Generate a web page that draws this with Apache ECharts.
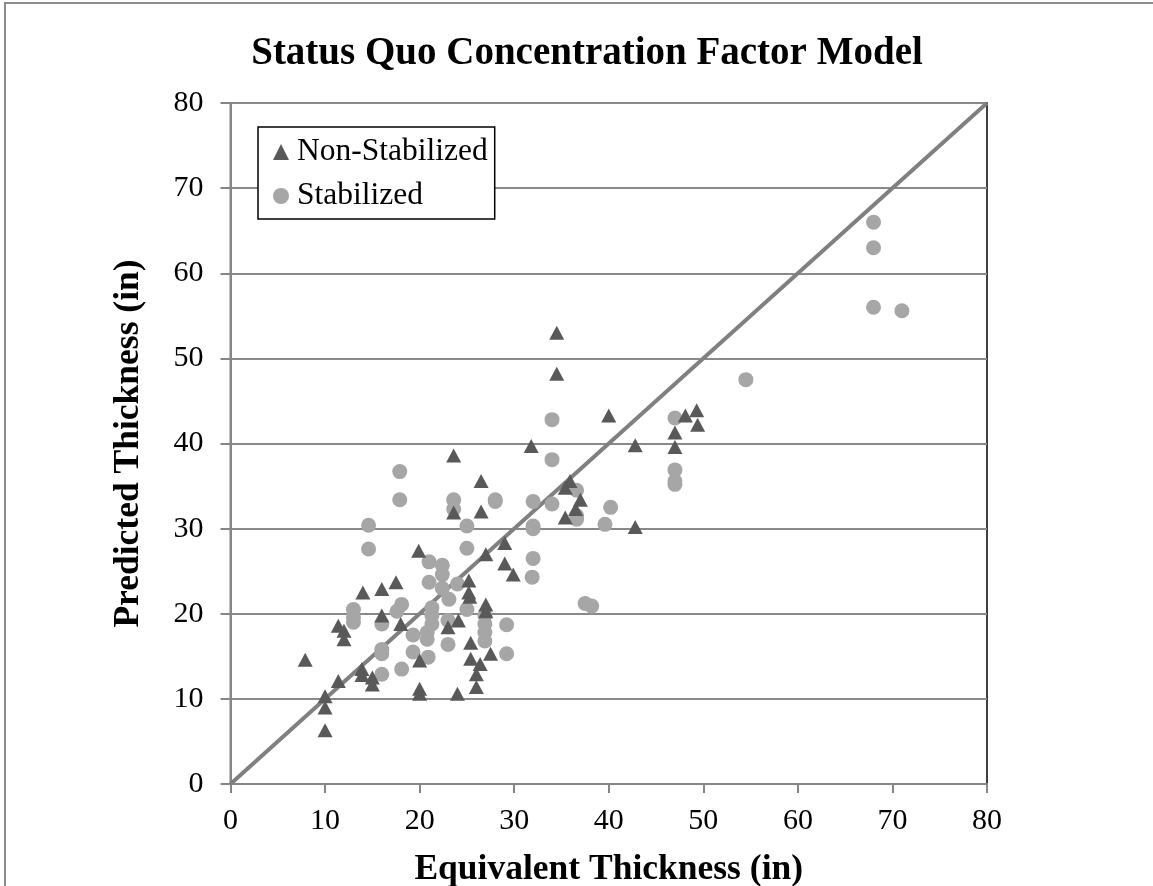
<!DOCTYPE html>
<html>
<head>
<meta charset="utf-8">
<title>Status Quo Concentration Factor Model</title>
<script src="https://cdn.jsdelivr.net/npm/echarts@6/dist/echarts.min.js"></script>
<style>
  html, body { margin: 0; padding: 0; background: #fff; }
  #frame { position: absolute; left: 4px; top: 2px; width: 1160px; height: 900px;
           border-left: 2px solid #8c8c8c; border-top: 2px solid #8c8c8c; }
  #chart { position: absolute; left: 0; top: 0; width: 1153px; height: 886px; }
</style>
</head>
<body>
<div id="frame"></div>
<div id="chart"></div>
<script>
// equivalent thickness (in), predicted thickness (in)
var nonStabilized = [
  [7.9, 14.6], [10, 10.3], [10, 9.0], [10, 6.3], [11.4, 12.1], [11.4, 18.6], [12, 18.0], [12, 17.0],
  [13.9, 13.5], [13.9, 12.8], [14, 22.5], [15, 12.5], [15, 11.7], [16, 22.9], [16, 19.8], [17.5, 23.7],
  [18, 18.8], [19.9, 27.4], [20, 14.5], [20, 11.2], [20, 10.6], [23, 18.4], [23.6, 38.6], [23.6, 31.9],
  [24, 10.6], [24.1, 19.2], [25.2, 23.9], [25.2, 22.5], [25.3, 22.0], [25.4, 16.6], [25.4, 14.7],
  [26, 12.9], [26, 11.4], [26.4, 14.1], [26.5, 35.6], [26.5, 32.0], [27, 27.0], [27, 21.1], [27, 20.3],
  [27.5, 15.3], [29, 28.3], [29, 25.9], [29.9, 24.6], [31.8, 39.7], [34.5, 53.0], [34.5, 48.2],
  [35.4, 34.8], [35.9, 35.6], [35.4, 31.3], [37, 33.4], [36.5, 32.3], [40, 43.3], [42.8, 39.8],
  [42.8, 30.2], [47, 41.3], [47, 39.6], [48.1, 43.3], [49.3, 43.9], [49.4, 42.2]
];
var stabilized = [
  [13, 20.5], [13, 19.6], [13, 19.0], [14.6, 30.4], [14.6, 27.6], [16, 18.8], [16, 15.8], [16, 15.3],
  [16, 12.9], [17.9, 36.7], [17.9, 33.4], [17.6, 20.3], [18.1, 21.1], [18.1, 13.5], [19.3, 17.5],
  [19.3, 15.5], [20.9, 14.9], [20.8, 17.0], [20.8, 17.8], [21.3, 18.8], [21.3, 19.8], [21.3, 20.7],
  [21, 26.1], [21, 23.7], [22.4, 25.7], [22.4, 24.6], [22.4, 23.0], [23.1, 21.7], [23, 19.2], [23, 16.4],
  [23.6, 33.4], [23.6, 32.3], [24, 23.5], [25, 30.3], [25, 27.7], [25, 20.5], [26.9, 19.8], [26.9, 18.8],
  [26.9, 17.8], [26.9, 16.8], [28, 33.4], [28, 33.2], [29.2, 18.7], [29.2, 15.3], [32, 33.2], [32, 30.3],
  [32, 30.0], [32, 26.5], [31.9, 24.3], [34, 42.8], [34, 38.1], [34, 32.9], [36.6, 34.5], [36.6, 31.5],
  [36.6, 31.1], [37.5, 21.2], [38.2, 20.9], [39.6, 30.5], [40.2, 32.5], [47, 43.0], [47, 36.9],
  [47, 35.6], [47, 35.2], [54.5, 47.5], [68, 66], [68, 63], [68, 56], [71, 55.6]
];
// 1:1 reference line
var equalityLine = [[0, 0], [80, 80]];

var serif = "'Liberation Serif', 'Times New Roman', serif";
var chart = echarts.init(document.getElementById('chart'));

chart.setOption({
  animation: false,
  title: {
    text: 'Status Quo Concentration Factor Model',
    left: 582,
    textAlign: 'center',
    top: 29,
    textStyle: { fontFamily: serif, fontSize: 39, fontWeight: 'bold', color: '#000' }
  },
  grid: {
    left: 230.5, right: 166, top: 103, bottom: 102,
    outerBoundsMode: 'none',
    show: true, borderColor: '#000', borderWidth: 1.5, backgroundColor: 'transparent'
  },
  legend: {
    orient: 'vertical',
    left: 258, top: 127,
    data: ['Non-Stabilized', 'Stabilized'],
    backgroundColor: '#fff',
    borderColor: '#000', borderWidth: 1.5, borderRadius: 0,
    padding: [9, 7, 7, 15],
    itemWidth: 16, itemHeight: 16, itemGap: 12,
    textStyle: { fontFamily: serif, fontSize: 31.5, color: '#000', padding: [0, 0, 0, 3] }
  },
  xAxis: {
    type: 'value', min: 0, max: 80, interval: 10,
    name: 'Equivalent Thickness (in)', nameLocation: 'middle', nameGap: 68,
    nameTextStyle: { fontFamily: serif, fontSize: 35.5, fontWeight: 'bold', color: '#000' },
    axisLine: { lineStyle: { color: '#868686', width: 2 } },
    axisTick: { show: true, length: 9, lineStyle: { color: '#868686', width: 2 } },
    axisLabel: { fontFamily: serif, fontSize: 30, color: '#000', margin: 22 },
    splitLine: { show: false }
  },
  yAxis: {
    type: 'value', min: 0, max: 80, interval: 10,
    name: 'Predicted Thickness (in)', nameLocation: 'middle', nameGap: 84, nameRotate: 90,
    nameTextStyle: { fontFamily: serif, fontSize: 35.5, fontWeight: 'bold', color: '#000' },
    axisLine: { lineStyle: { color: '#868686', width: 2 } },
    axisTick: { show: true, length: 10, lineStyle: { color: '#868686', width: 2 } },
    axisLabel: { fontFamily: serif, fontSize: 30, color: '#000', margin: 27 },
    splitLine: { lineStyle: { color: '#898989', width: 2 } }
  },
  series: [
    {
      name: '1:1',
      type: 'line',
      data: equalityLine,
      symbol: 'none',
      lineStyle: { color: '#808080', width: 4 },
      z: 1
    },
    {
      name: 'Non-Stabilized',
      type: 'scatter',
      data: nonStabilized,
      symbol: 'triangle',
      symbolSize: [15, 14],
      itemStyle: { color: '#595959', opacity: 1 },
      z: 3
    },
    {
      name: 'Stabilized',
      type: 'scatter',
      data: stabilized,
      symbol: 'circle',
      symbolSize: 15,
      itemStyle: { color: '#a6a6a6', opacity: 1 },
      z: 2
    }
  ]
});
</script>
</body>
</html>
